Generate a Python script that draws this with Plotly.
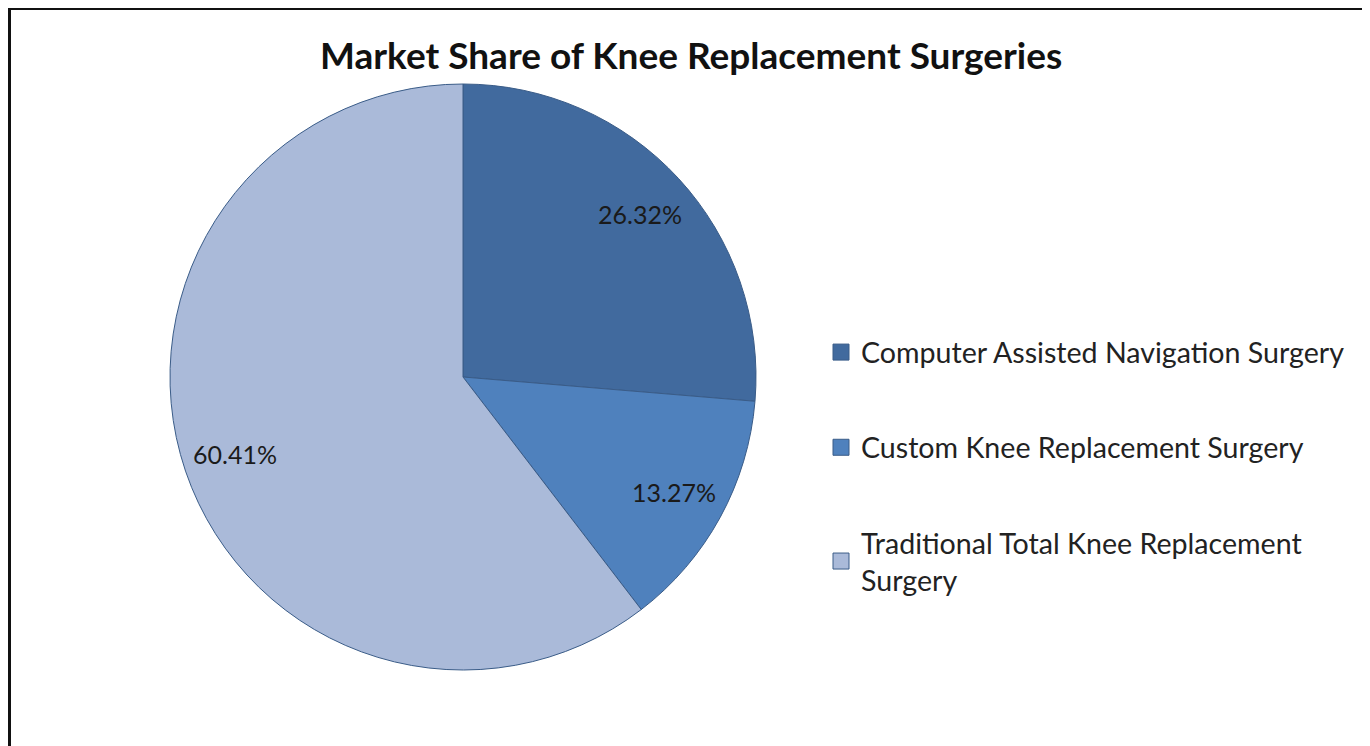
import math
import plotly.graph_objects as go

title = "Market Share of Knee Replacement Surgeries"
categories = ["Computer Assisted Navigation Surgery",
              "Custom Knee Replacement Surgery",
              "Traditional Total Knee Replacement Surgery"]
legend_labels = ["Computer Assisted Navigation Surgery",
                 "Custom Knee Replacement Surgery",
                 "Traditional Total Knee Replacement<br>Surgery"]
shares = [26.32, 13.27, 60.41]
colors = ["#416A9E", "#4F81BD", "#AABAD9"]

# the page adds an 8px body margin; figure is sized to fill the rest
OFF = 8
W, H = 1370 - OFF, 746 - OFF


def X(sx):
    return (sx - OFF) / W


def Y(sy):
    return 1 - (sy - OFF) / H


cx, cy, R = 463, 377, 293  # screen centre and radius of the pie

fig = go.Figure()
fig.add_trace(go.Pie(
    labels=categories, values=shares, sort=False, direction="clockwise",
    rotation=0, textinfo="none", hoverinfo="label+percent",
    marker=dict(colors=colors, line=dict(color="#3A5C88", width=1)),
    domain=dict(x=[X(cx - R), X(cx + R)], y=[Y(cy + R), Y(cy - R)]),
    showlegend=False,
))

# legend entries
for i, (lab, col) in enumerate(zip(legend_labels, colors)):
    fig.add_trace(go.Scatter(
        x=[None], y=[None], mode="markers", name=lab, legendgroup=str(i),
        marker=dict(symbol="square", size=18, color=col,
                    line=dict(color="#3A5C88", width=1)),
    ))

# percentage labels placed along each slice bisector
total = sum(shares)
cum = 0.0
for v in shares:
    mid = (cum + v / 2) / total * 2 * math.pi
    cum += v
    px = cx + 0.82 * R * math.sin(mid)
    py = cy - 0.82 * R * math.cos(mid)
    fig.add_annotation(x=X(px), y=Y(py), xref="paper", yref="paper",
                       xanchor="center", yanchor="middle",
                       text=f"{v / total * 100:.2f}%", showarrow=False,
                       font=dict(family="Lato", size=25, color="#1a1a1a"))

fig.add_annotation(x=X(691), y=Y(54), xref="paper", yref="paper",
                   xanchor="center", yanchor="middle",
                   text=f"<b>{title}</b>", showarrow=False,
                   font=dict(family="Lato", size=37, color="#111111"))

# outer frame
fig.add_shape(type="line", xref="paper", yref="paper",
              x0=1.5 / W, x1=1.5 / W, y0=0, y1=1,
              line=dict(color="#111111", width=3))
fig.add_shape(type="line", xref="paper", yref="paper",
              x0=0, x1=1, y0=1 - 1 / H, y1=1 - 1 / H,
              line=dict(color="#111111", width=2))
fig.add_shape(type="line", xref="paper", yref="paper",
              x0=1 - 1.5 / W, x1=1 - 1.5 / W, y0=0, y1=1,
              line=dict(color="#888888", width=3))

fig.update_layout(
    width=W, height=H, margin=dict(l=0, r=0, t=0, b=0),
    paper_bgcolor="white", plot_bgcolor="white",
    xaxis=dict(visible=False, domain=[0.9, 0.91]),
    yaxis=dict(visible=False, domain=[0.9, 0.91]),
    showlegend=True,
    legend=dict(x=X(821), xanchor="left", y=Y(327), yanchor="top",
                font=dict(family="Lato", size=28.6, color="#222222"),
                tracegroupgap=55, bgcolor="rgba(0,0,0,0)"),
)

fig.write_html("out.html")
